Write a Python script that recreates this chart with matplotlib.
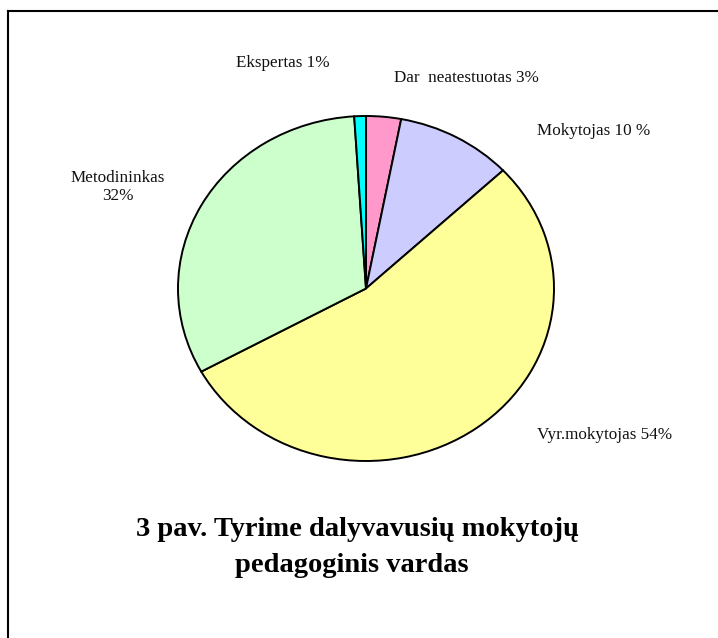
import matplotlib
matplotlib.use("Agg")
import matplotlib.pyplot as plt
from matplotlib.lines import Line2D

categories = ["Dar  neatestuotas", "Mokytojas", "Vyr.mokytojas", "Metodininkas", "Ekspertas"]
values = [3, 10, 54, 32, 1]
label_texts = ["Dar  neatestuotas 3%", "Mokytojas 10 %", "Vyr.mokytojas 54%", "Metodininkas\n32%", "Ekspertas 1%"]
colors = ["#FF99CC", "#CCCCFF", "#FFFF99", "#CCFFCC", "#00FFFF"]
title_line1 = "3 pav. Tyrime dalyvavusių mokytojų"
title_line2 = "pedagoginis vardas"

W, H = 718, 638
fig = plt.figure(figsize=(W / 100, H / 100), dpi=100)
fig.patch.set_facecolor("white")

def fx(px):
    return px / W

def fy(py):
    return 1 - py / H

# pie axes (ellipse: stretched horizontally)
left, right, top, bottom = 178, 554, 116, 461
ax = fig.add_axes([fx(left), fy(bottom), (right - left) / W, (bottom - top) / H])
ax.pie(values, colors=colors, startangle=90, counterclock=False,
       wedgeprops=dict(edgecolor="black", linewidth=1.4))
ax.set_aspect("auto")
ax.set_xlim(-1.0, 1.0)
ax.set_ylim(-1.0, 1.0)
ax.axis("off")

font = "Liberation Serif"
label_pos = {
    "Dar  neatestuotas 3%": (466, 78),
    "Mokytojas 10 %": (594, 131),
    "Vyr.mokytojas 54%": (605, 435),
    "Metodininkas\n32%": (118, 187),
    "Ekspertas 1%": (283, 63),
}
for t in label_texts:
    x, y = label_pos[t]
    fig.text(fx(x), fy(y), t, ha="center", va="center", fontsize=12.3,
             family=font, color="#111111", linespacing=1.25)

fig.text(fx(357), fy(530), title_line1, ha="center", va="center", fontsize=20.5,
         family=font, fontweight="bold")
fig.text(fx(352), fy(566), title_line2, ha="center", va="center", fontsize=20.5,
         family=font, fontweight="bold")

# frame (top and left edges visible)
fig.add_artist(Line2D([fx(8), 1.0], [fy(11), fy(11)], transform=fig.transFigure,
                      color="black", linewidth=1.5))
fig.add_artist(Line2D([fx(8), fx(8)], [fy(11), 0.0], transform=fig.transFigure,
                      color="black", linewidth=1.5))

fig.savefig("out.png", dpi=100, facecolor="white")
